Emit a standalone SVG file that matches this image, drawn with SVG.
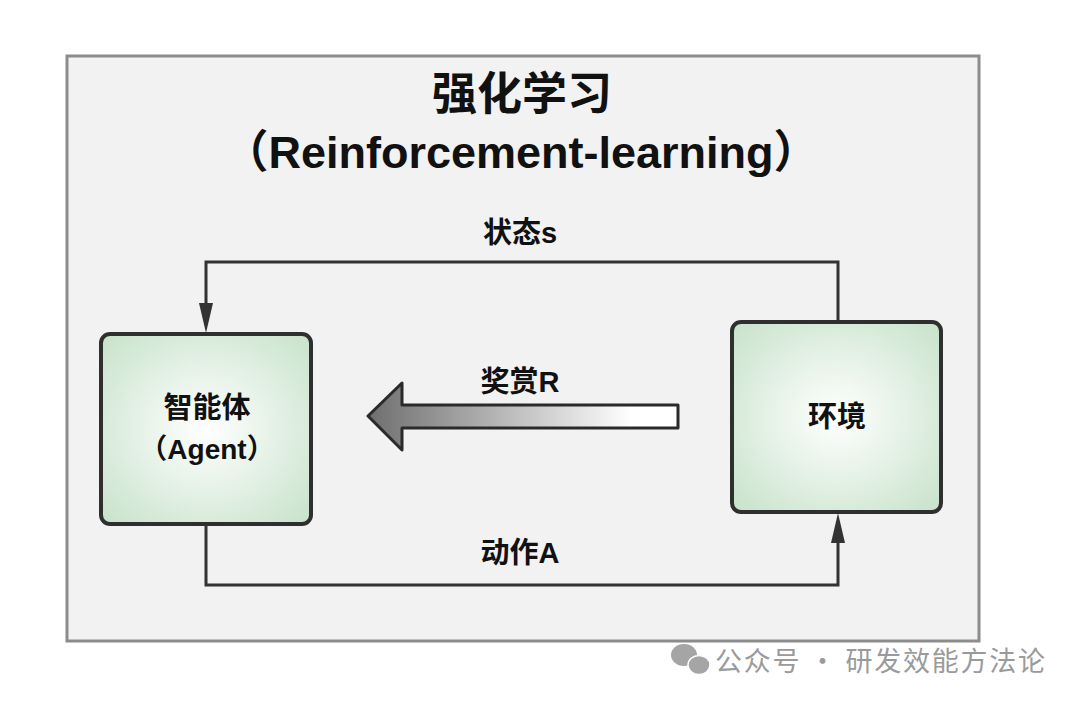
<svg xmlns="http://www.w3.org/2000/svg" width="1080" height="704" viewBox="0 0 1080 704">
<defs>
<style>
.t{font-family:"Liberation Sans","Noto Sans CJK SC",sans-serif;font-weight:bold;fill:#111;text-anchor:middle}
.node{stroke:#2f2f2f;stroke-width:4;fill:url(#ng)}
.conn{fill:none;stroke:#333;stroke-width:3}
.wm{font-family:"Noto Sans CJK SC",sans-serif;fill:#9a9a9a;font-size:27px}
</style>
<radialGradient id="ng" cx="0.5" cy="0.5" r="0.75">
<stop offset="0" stop-color="#ffffff"/>
<stop offset="1" stop-color="#c3e0c6"/>
</radialGradient>
<linearGradient id="ag" x1="0" y1="0" x2="1" y2="0">
<stop offset="0" stop-color="#6e6e6e"/>
<stop offset="0.85" stop-color="#ffffff"/>
<stop offset="1" stop-color="#ffffff"/>
</linearGradient>
</defs>
<rect x="0" y="0" width="1080" height="704" fill="#ffffff"/>
<rect x="67" y="56" width="912" height="585" fill="#f2f2f2" stroke="#8c8c8c" stroke-width="3"/>
<text class="t" x="522" y="110" font-size="45">强化学习</text>
<text class="t" x="521" y="168" font-size="45">（Reinforcement-learning）</text>

<g id="connectors">
<path class="conn" d="M838,320 V262 H206 V303"/>
<path d="M199,303 L213,303 L206,333 Z" fill="#333"/>
<path class="conn" d="M206,526 V585 H838 V543"/>
<path d="M831,543 L845,543 L838,513 Z" fill="#333"/>
<path d="M678,405 L678,428 L402,428 L402,450 L368,416 L402,383 L402,405 Z" fill="url(#ag)" stroke="#2a2a2a" stroke-width="3" stroke-linejoin="round"/>
<text class="t" x="520" y="243" font-size="29">状态s</text>
<text class="t" x="520" y="392" font-size="29">奖赏R</text>
<text class="t" x="520" y="563" font-size="29">动作A</text>
</g>

<g id="agent">
<rect class="node" x="101" y="334" width="210" height="190" rx="9"/>
<text class="t" x="207" y="418" font-size="29">智能体</text>
<text class="t" x="207" y="459" font-size="28">（Agent）</text>
</g>

<g id="env">
<rect class="node" x="732" y="322" width="209" height="190" rx="9"/>
<text class="t" x="837" y="427" font-size="29">环境</text>
</g>

<g id="watermark">
<ellipse cx="684" cy="655" rx="13" ry="11" fill="#a5a5a5"/>
<ellipse cx="699" cy="665" rx="11" ry="9.5" fill="#a5a5a5" stroke="#ffffff" stroke-width="1.5"/>
<text class="wm" x="715" y="671" textLength="330" lengthAdjust="spacing">公众号 · 研发效能方法论</text>
</g>
</svg>
